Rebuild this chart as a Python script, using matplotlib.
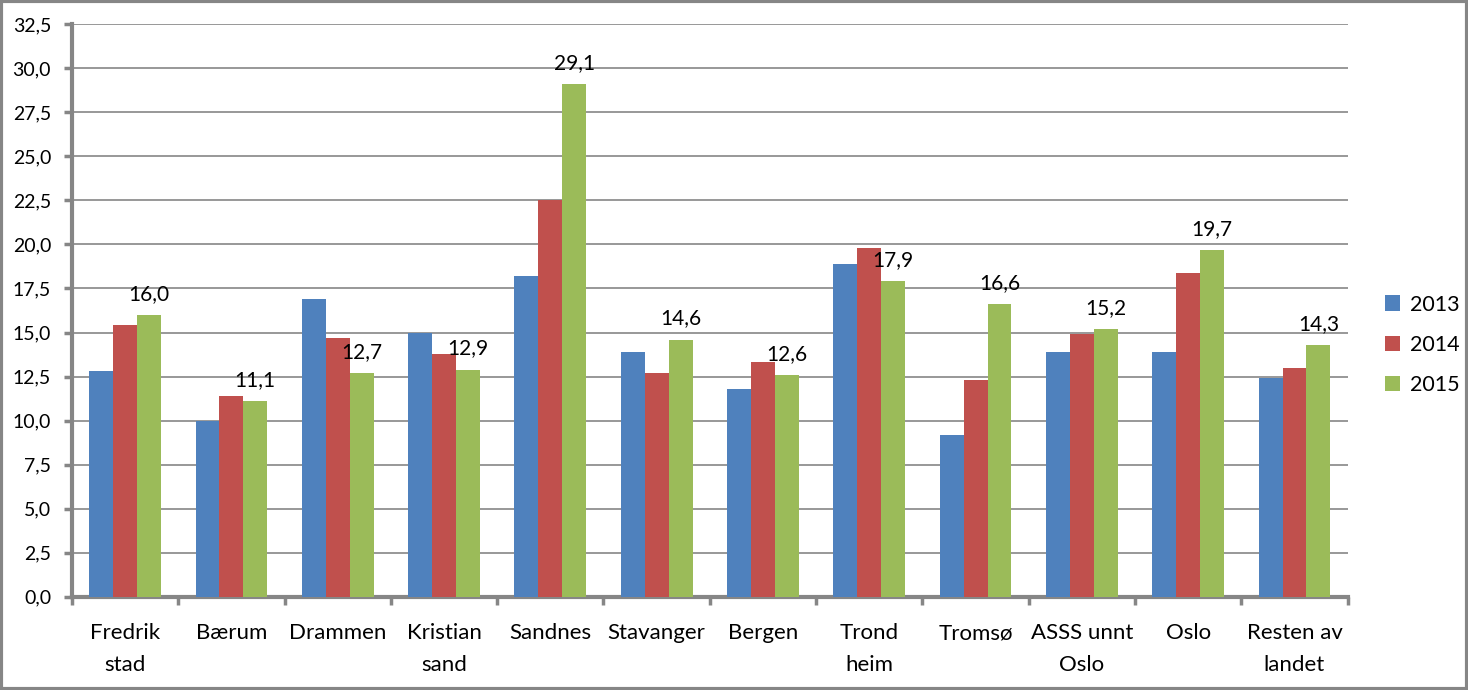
import numpy as np
import matplotlib
matplotlib.use("Agg")
import matplotlib.pyplot as plt
from matplotlib.patches import Rectangle

plt.rcParams['font.family'] = ['Lato', 'DejaVu Sans']

kommuner = ['Fredrik\nstad', 'Bærum', 'Drammen', 'Kristian\nsand', 'Sandnes', 'Stavanger',
            'Bergen', 'Trond\nheim', 'Tromsø', 'ASSS unnt\nOslo', 'Oslo', 'Resten av\nlandet']
v2013 = [12.8, 10.0, 16.9, 15.0, 18.2, 13.9, 11.8, 18.9, 9.2, 13.9, 13.9, 12.4]
v2014 = [15.4, 11.4, 14.7, 13.8, 22.5, 12.7, 13.3, 19.8, 12.3, 14.9, 18.4, 13.0]
v2015 = [16.0, 11.1, 12.7, 12.9, 29.1, 14.6, 12.6, 17.9, 16.6, 15.2, 19.7, 14.3]
years = ['2013', '2014', '2015']
farger = ['#4F81BD', '#C0504D', '#9BBB59']

fig = plt.figure(figsize=(14.68, 6.90), dpi=100)
ax = fig.add_axes([0.049, 0.135, 0.869, 0.830])

x = np.arange(len(kommuner))
w = 0.225
for i, (vals, col, yr) in enumerate(zip([v2013, v2014, v2015], farger, years)):
    ax.bar(x + (i - 1) * w, vals, width=w, color=col, label=yr, zorder=3)

# dataetiketter bare for 2015
for xi, v in zip(x, v2015):
    ax.annotate(f'{v:.1f}'.replace('.', ','), (xi + w, v), xytext=(0, 8),
                textcoords='offset points', ha='center', va='bottom', fontsize=15)

ax.set_xlim(-0.5, len(kommuner) - 0.5)
ax.set_ylim(0, 32.5)
yt = np.arange(0, 32.6, 2.5)
ax.set_yticks(yt)
ax.set_yticklabels([f'{t:.1f}'.replace('.', ',') for t in yt], fontsize=14)
ax.yaxis.grid(True, color='#868686', linewidth=1.2, zorder=0)

ax.set_xticks(x)
ax.set_xticklabels(kommuner, fontsize=16, linespacing=1.75, va='top')
ax.set_xticks(np.arange(-0.5, len(kommuner)), minor=True)
ax.tick_params(axis='x', which='major', length=0, pad=19)
ax.tick_params(axis='x', which='minor', length=6, width=2.5, color='#868686', direction='out')
ax.tick_params(axis='y', length=6, width=2.5, color='#868686', direction='out', pad=9)

for side in ['top', 'right']:
    ax.spines[side].set_visible(False)
for side in ['left', 'bottom']:
    ax.spines[side].set_color('#868686')
    ax.spines[side].set_linewidth(3)

ax.legend(loc='center left', bbox_to_anchor=(0.930, 0.50), bbox_transform=fig.transFigure,
          frameon=False, fontsize=15.5, handlelength=0.7, handleheight=0.7,
          handletextpad=0.5, labelspacing=0.95)

fig.add_artist(Rectangle((0.001, 0.002), 0.998, 0.996, transform=fig.transFigure,
                         fill=False, edgecolor='#868686', linewidth=3))

fig.savefig('out.png', dpi=100)
